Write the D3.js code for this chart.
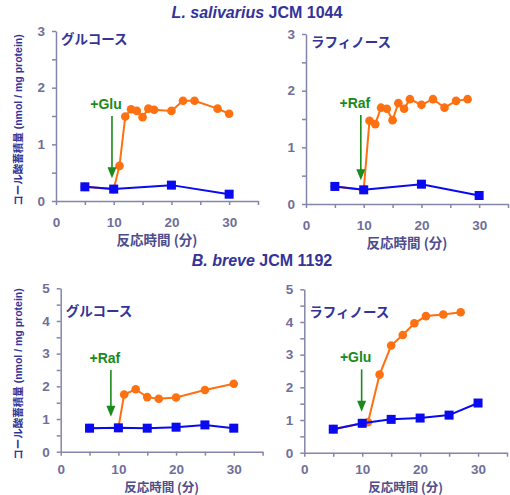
<!DOCTYPE html>
<html>
<head>
<meta charset="utf-8">
<script src="https://cdn.jsdelivr.net/npm/d3@7"></script>
<style>
  body { margin: 0; background: #fff; }
  svg { display: block; font-family: "Liberation Sans", Arial, "Noto Sans CJK JP", sans-serif; }
</style>
</head>
<body>
<div id="chart"></div>
<script>
// data
const titles = ["L. salivarius", "B. breve"];
const strainIds = ["JCM 1044", "JCM 1192"];
const panelNames = ["グルコース", "ラフィノース", "グルコース", "ラフィノース"];
const addLabels = ["+Glu", "+Raf", "+Raf", "+Glu"];

const ctrlTime = [
  [5, 10, 20, 30],
  [5, 10, 20, 30],
  [5, 10, 15, 20, 25, 30],
  [5, 10, 15, 20, 25, 30]
];
const ctrlValue = [
  [0.25, 0.21, 0.28, 0.12],
  [0.31, 0.25, 0.35, 0.15],
  [0.72, 0.73, 0.72, 0.75, 0.82, 0.72],
  [0.72, 0.90, 1.02, 1.06, 1.15, 1.52]
];
const addTime = [
  [5, 10, 11, 12, 13, 14, 15, 16, 17, 20, 22, 24, 28, 30],
  [5, 10, 11, 12, 13, 14, 15, 16, 17, 18, 20, 22, 24, 26, 28],
  [5, 10, 11, 13, 15, 17, 20, 25, 30],
  [5, 10, 11, 13, 15, 17, 19, 21, 24, 27]
];
const addValue = [
  [0.25, 0.21, 0.62, 1.49, 1.62, 1.59, 1.48, 1.63, 1.61, 1.59, 1.77, 1.77, 1.63, 1.54],
  [0.31, 0.25, 1.47, 1.41, 1.70, 1.68, 1.48, 1.78, 1.68, 1.85, 1.75, 1.85, 1.70, 1.82, 1.85],
  [0.72, 0.73, 1.75, 1.91, 1.67, 1.62, 1.66, 1.89, 2.08],
  [0.72, 0.90, 0.93, 2.39, 3.28, 3.60, 3.96, 4.18, 4.23, 4.30]
];
// arrow: x position, top and tip (data units)
const arrowX = [9.7, 9.5, 8.7, 9.9];
const arrowTop = [1.5, 1.57, 2.5, 2.55];
const arrowBottom = [0.4, 0.42, 1.07, 1.25];
const yMax = [3, 3, 5, 5];

const W = 510, H = 495;
const svg = d3.select("#chart").append("svg").attr("width", W).attr("height", H);

const navy = "#333399";
const axisCol = "#8585aa";
const tickCol = "#6f6f99";
const green = "#1a8a1a";

// panel frames (pixel box of each plot area)
const frames = [
  { x0: 56, x1: 258, y0: 201, y1: 31 },
  { x0: 306, x1: 508, y0: 204, y1: 34 },
  { x0: 60.7, x1: 262.6, y0: 451.7, y1: 288.3 },
  { x0: 304.3, x1: 507, y0: 452.7, y1: 289.3 }
];

// titles
[[257, 18], [262, 266]].forEach((p, i) => {
  const t = svg.append("text")
    .attr("x", p[0]).attr("y", p[1])
    .attr("text-anchor", "middle")
    .attr("fill", navy)
    .style("font-size", "16px")
    .style("font-weight", "bold");
  t.append("tspan").style("font-style", "italic").text(titles[i]);
  t.append("tspan").text(" " + strainIds[i]);
});

frames.forEach((f, i) => {
  const x = d3.scaleLinear().domain([0, 35]).range([f.x0, f.x1]);
  const y = d3.scaleLinear().domain([0, yMax[i]]).range([f.y0, f.y1]);
  const g = svg.append("g");
  const lower = i >= 2;

  // x axis
  const xa = g.append("g")
    .attr("transform", "translate(0," + f.y0 + ")")
    .call(d3.axisBottom(x).tickValues(d3.range(0, 36, 5)).tickSize(4).tickSizeOuter(0)
      .tickFormat(d => d % 10 === 0 ? d : ""));
  // y axis
  const ya = g.append("g")
    .attr("transform", "translate(" + f.x0 + ",0)")
    .call(d3.axisLeft(y).tickValues(d3.range(0, yMax[i] + 0.01, 0.5)).tickSize(4).tickSizeOuter(0)
      .tickFormat(d => d % 1 === 0 ? d : ""));
  [xa, ya].forEach(a => {
    a.select(".domain").attr("stroke", axisCol).attr("stroke-width", 1.5);
    a.selectAll(".tick line").attr("stroke", axisCol).attr("stroke-width", 1.5);
    a.selectAll(".tick text")
      .attr("fill", tickCol)
      .style("font-size", "13.5px")
      .style("font-weight", "bold")
      .style("font-family", "Liberation Sans, Arial, sans-serif");
  });
  // lower row: same baseline for both panels so the axis title fits below
  xa.selectAll(".tick text").attr("y", lower ? 474.5 - 9.6 - f.y0 : 16);
  ya.selectAll(".tick text").attr("x", -11);

  // x axis title (kept inside the window for the lower row)
  g.append("text")
    .attr("x", (f.x0 + f.x1) / 2)
    .attr("y", lower ? 492 : f.y0 + 44)
    .attr("text-anchor", "middle")
    .attr("fill", "#4d4d8c")
    .style("font-size", lower ? "12.5px" : "13.5px")
    .style("font-weight", "bold")
    .style("font-family", "Noto Sans CJK JP, sans-serif")
    .text("反応時間 (分)");

  // y axis title on left panels only
  if (i % 2 === 0) {
    const cy = (f.y0 + f.y1) / 2 + 4;
    const yt = g.append("text")
      .attr("transform", "translate(22," + cy + ") rotate(-90)")
      .attr("text-anchor", "middle")
      .attr("fill", navy)
      .style("font-size", "10.5px")
      .style("font-weight", "bold");
    yt.append("tspan").style("font-family", "Noto Sans CJK JP, sans-serif").text("コール酸蓄積量");
    yt.append("tspan").text(" (nmol / mg protein)");
  }

  // panel name
  g.append("text")
    .attr("x", f.x0 + 5)
    .attr("y", f.y1 + (i < 2 ? 13 : 28))
    .attr("fill", navy)
    .style("font-size", "13.5px")
    .style("font-weight", "bold")
    .style("font-family", "Noto Sans CJK JP, sans-serif")
    .text(panelNames[i]);

  // added sugar series (orange)
  const addPts = addTime[i].map((t, k) => ({ t: t, v: addValue[i][k] }));
  const line = d3.line().x(d => x(d.t)).y(d => y(d.v));
  g.append("path").datum(addPts)
    .attr("fill", "none").attr("stroke", "#ff7010").attr("stroke-width", 2)
    .attr("d", line);
  g.selectAll(".dot").data(addPts).enter().append("circle")
    .attr("cx", d => x(d.t)).attr("cy", d => y(d.v)).attr("r", 4.3)
    .attr("fill", "#ff7010");

  // control series (blue squares)
  const ctrlPts = ctrlTime[i].map((t, k) => ({ t: t, v: ctrlValue[i][k] }));
  g.append("path").datum(ctrlPts)
    .attr("fill", "none").attr("stroke", "#0a0af0").attr("stroke-width", 2)
    .attr("d", line);
  g.selectAll(".sq").data(ctrlPts).enter().append("rect")
    .attr("x", d => x(d.t) - 4.5).attr("y", d => y(d.v) - 4.5)
    .attr("width", 9).attr("height", 9)
    .attr("fill", "#0a0af0");

  // arrow and label
  const ax = x(arrowX[i]), tip = y(arrowBottom[i]);
  g.append("line")
    .attr("x1", ax).attr("x2", ax)
    .attr("y1", y(arrowTop[i])).attr("y2", tip - 9)
    .attr("stroke", green).attr("stroke-width", 1.6);
  g.append("path")
    .attr("d", "M" + (ax - 4.5) + "," + (tip - 11) + " L" + (ax + 4.5) + "," + (tip - 11) + " L" + ax + "," + tip + " Z")
    .attr("fill", green);
  g.append("text")
    .attr("x", ax - 6)
    .attr("y", y(arrowTop[i]) - 7)
    .attr("text-anchor", "middle")
    .attr("fill", green)
    .style("font-size", "14px")
    .style("font-weight", "bold")
    .text(addLabels[i]);
});
</script>
</body>
</html>
